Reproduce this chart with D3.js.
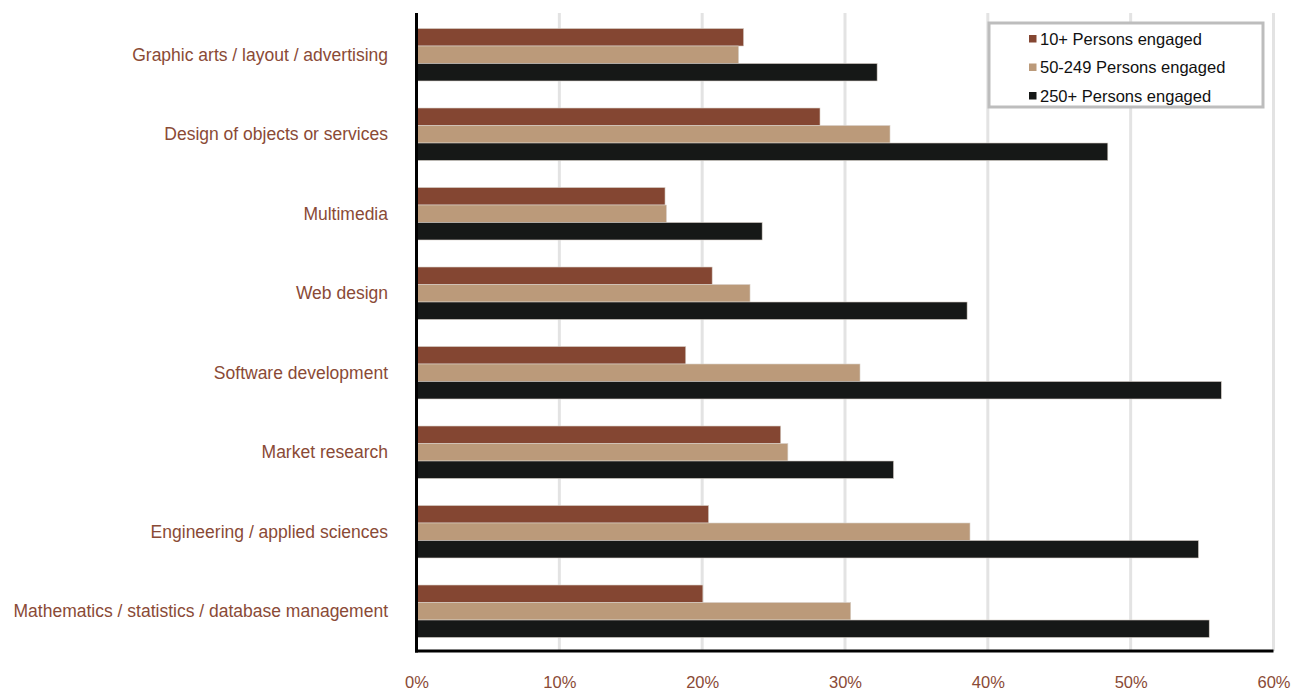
<!DOCTYPE html>
<html>
<head>
<meta charset="utf-8">
<script src="https://cdn.jsdelivr.net/npm/d3@7"></script>
<style>
  html, body { margin: 0; padding: 0; background: #fff; }
  svg { display: block; font-family: "Liberation Sans", Arial, sans-serif; }
</style>
</head>
<body>
<svg id="chart" width="1292" height="691"></svg>
<script>
// Share of enterprises by activity, per enterprise size class (%)
const categories = [
  "Graphic arts / layout / advertising",
  "Design of objects or services",
  "Multimedia",
  "Web design",
  "Software development",
  "Market research",
  "Engineering / applied sciences",
  "Mathematics / statistics / database management"
];
const seriesNames = ["10+ Persons engaged", "50-249 Persons engaged", "250+ Persons engaged"];
const small = [22.9, 28.25, 17.4, 20.7, 18.85, 25.5, 20.45, 20.05];
const medium = [22.55, 33.15, 17.5, 23.35, 31.05, 26.0, 38.75, 30.4];
const large = [32.25, 48.4, 24.2, 38.55, 56.35, 33.4, 54.75, 55.5];
const tickValues = [0, 10, 20, 30, 40, 50, 60];
const colors = ["#844632", "#bb9a7a", "#161817"];

const series = [small, medium, large];
const svg = d3.select("#chart");

const plotLeft = 416.5, plotRight = 1273.5, plotTop = 13, plotBottom = 651;

const x = d3.scaleLinear().domain([0, 60]).range([plotLeft, plotRight]);
const y = d3.scaleBand().domain(categories).range([15, plotBottom]).paddingInner(0.34).paddingOuter(0.17);
const ySub = d3.scaleBand().domain(d3.range(series.length)).range([0, y.bandwidth()]);

// vertical gridlines
svg.append("g")
  .selectAll("line")
  .data(tickValues.slice(1))
  .join("line")
  .attr("x1", d => x(d)).attr("x2", d => x(d))
  .attr("y1", plotTop).attr("y2", plotBottom)
  .attr("stroke", "#e3e3e3")
  .attr("stroke-width", 3);

// bars
const groups = svg.append("g")
  .selectAll("g")
  .data(categories)
  .join("g")
  .attr("transform", d => `translate(0,${y(d)})`);

groups.selectAll("rect")
  .data((d, i) => series.map((s, k) => ({ k, v: s[i] })))
  .join("rect")
  .attr("x", x(0))
  .attr("y", d => ySub(d.k))
  .attr("width", d => x(d.v) - x(0))
  .attr("height", ySub.bandwidth())
  .attr("fill", d => colors[d.k])
  .attr("stroke", "#d8d0c8")
  .attr("stroke-width", 0.6);

// category labels
svg.append("g")
  .selectAll("text")
  .data(categories)
  .join("text")
  .attr("x", 388)
  .attr("y", d => y(d) + y.bandwidth() / 2)
  .attr("text-anchor", "end")
  .attr("dominant-baseline", "central")
  .attr("font-size", 17.5)
  .attr("fill", "#8a4a36")
  .text(d => d);

// x-axis tick labels
const xAxis = d3.axisBottom(x)
  .tickValues(tickValues)
  .tickFormat(d => d + "%")
  .tickSize(0)
  .tickPadding(25);
const ax = svg.append("g").attr("transform", `translate(0,${plotBottom})`).call(xAxis);
ax.select(".domain").remove();
ax.selectAll("text")
  .attr("font-size", 16.5)
  .attr("font-family", "Liberation Sans, Arial, sans-serif")
  .attr("fill", "#8a4a36");

// axis lines
svg.append("line")
  .attr("x1", x(0)).attr("x2", x(0))
  .attr("y1", plotTop).attr("y2", plotBottom + 1.5)
  .attr("stroke", "#000").attr("stroke-width", 3);
svg.append("line")
  .attr("x1", x(0) - 1.5).attr("x2", x(60))
  .attr("y1", plotBottom).attr("y2", plotBottom)
  .attr("stroke", "#000").attr("stroke-width", 3);

// legend
const legend = svg.append("g").attr("transform", "translate(989,23)");
legend.append("rect")
  .attr("width", 274).attr("height", 84)
  .attr("fill", "#fff")
  .attr("stroke", "#bdbdbd").attr("stroke-width", 3);
const items = legend.selectAll("g.item")
  .data(seriesNames)
  .join("g")
  .attr("class", "item")
  .attr("transform", (d, i) => `translate(40,${15.5 + i * 28.5})`);
items.append("rect")
  .attr("x", 0).attr("y", -3.5)
  .attr("width", 7.5).attr("height", 7.5)
  .attr("fill", (d, i) => colors[i]);
items.append("text")
  .attr("x", 11)
  .attr("y", 0)
  .attr("dominant-baseline", "central")
  .attr("font-size", 16.5)
  .attr("fill", "#111")
  .text(d => d);
</script>
</body>
</html>
